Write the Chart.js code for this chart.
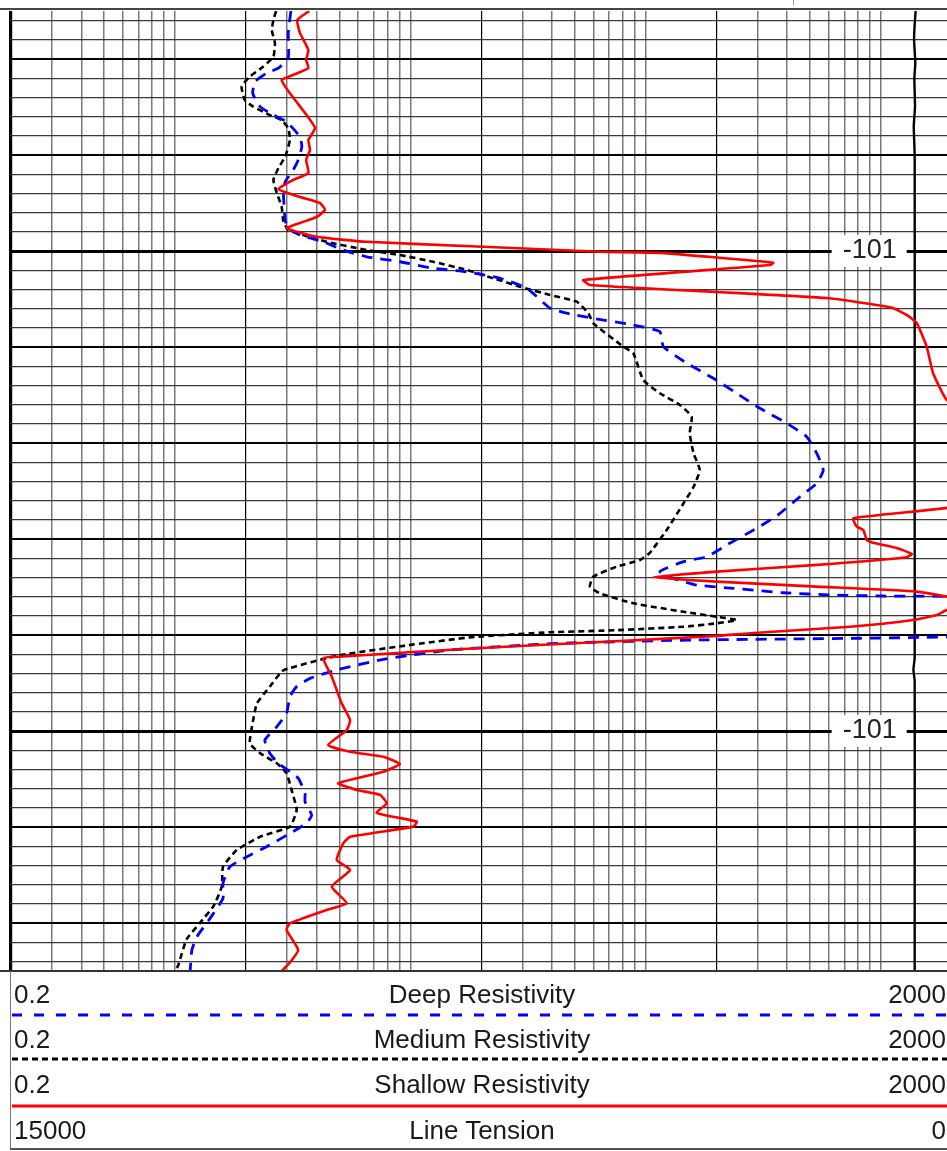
<!DOCTYPE html>
<html>
<head>
<meta charset="utf-8">
<title>Resistivity log</title>
<script src="https://cdn.jsdelivr.net/npm/chart.js@4.4.1/dist/chart.umd.min.js"></script>
<style>
  html, body { margin: 0; padding: 0; background: #fff; overflow: hidden; width: 947px; height: 1151px; }
  #wrap { position: relative; width: 947px; height: 1151px; overflow: hidden; }
  #log { position: absolute; left: 0; top: 0; }
  .rule { position: absolute; }
  #legend { position: absolute; left: 10px; top: 971px; width: 942px; height: 177px;
    border-left: 1.5px solid #777; border-bottom: 2px solid #555;
    font-family: 'Liberation Sans', Arial, sans-serif; font-size: 26px; color: #1a1a1a; }
  .row { position: absolute; left: 0; right: 0; height: 30px; line-height: 30px; white-space: nowrap; }
  .row .lo { position: absolute; left: 3px; }
  .row .name { position: absolute; left: 0; right: 0; text-align: center; }
  .row .hi { position: absolute; right: 7px; }
  .sample { position: absolute; left: 0; }
</style>
</head>
<body>
<div id="wrap">
  <canvas id="log" width="960" height="1151" style="width:960px;height:1151px"></canvas>
  <div class="rule" style="left:0;top:8px;width:947px;height:2px;background:#444"></div>
  <div class="rule" style="left:793px;top:0;width:1px;height:5px;background:#999"></div>
  <div class="rule" style="left:0;top:970px;width:947px;height:1.5px;background:#333"></div>
  <div id="legend"></div>
</div>
<script>
// grid values of the resistivity scale (ohm.m), one line per value
const resTicks = [0.2, 0.3, 0.4, 0.5, 0.6, 0.7, 0.8, 0.9, 1,
  2, 3, 4, 5, 6, 7, 8, 9, 10,
  20, 30, 40, 50, 60, 70, 80, 90, 100,
  200, 300, 400, 500, 600, 700, 800, 900, 1000, 2000];
const decadeTicks = [0.2, 2, 20, 200, 2000];

// depth grid: one line per unit, heavier every 5, labelled every 25
const depthTicks = [];
for (let d = 13; d <= 62; d++) depthTicks.push(d);
const labelDepths = [25, 50];
const depthLabels = ['-101', '-101'];

// curve names and scale ends for the header
const curveNames = ['Deep Resistivity', 'Medium Resistivity', 'Shallow Resistivity', 'Line Tension'];
const curveLeft = ['0.2', '0.2', '0.2', '15000'];
const curveRight = ['2000', '2000', '2000', '0'];

// Deep resistivity (blue dashed)
const deepDepth = [12.5, 13.14, 13.66, 14.96, 15.48, 15.74, 16.18, 16.79, 17.48, 17.92,
  18.27, 19.05, 19.57, 20.26, 20.78, 21.39, 21.99, 23.39, 23.82, 24.17,
  24.52, 24.95, 25.3, 25.56, 25.9, 26.08, 26.42, 26.94, 27.98, 28.24,
  28.51, 28.85, 29.2, 29.98, 30.85, 31.63, 32.41, 33.19, 33.97, 34.67,
  35.54, 36.41, 37.1, 37.8, 38.75, 39.44, 40.22, 40.92, 41.18, 41.7,
  42.05, 42.4, 42.57, 42.8, 42.92, 42.97, 43.0, 43.5, 44.6, 45.09,
  45.26, 45.43, 45.78, 46.27, 46.82, 47.26, 47.69, 48.21, 49.08, 49.77,
  50.48, 51.16, 51.68, 52.46, 53.24, 53.68, 54.38, 54.81, 55.33, 56.03,
  56.55, 57.07, 57.93, 58.71, 59.76, 60.71, 61.41, 62.5];
const deepRes = [3.11, 3.06, 3.03, 3.03, 2.75, 2.45, 2.19, 2.14, 2.30, 2.62,
  2.98, 3.40, 3.46, 3.34, 3.18, 2.94, 2.89, 2.94, 3.03, 3.40,
  4.27, 5.19, 6.53, 9.04, 12.5, 17.4, 24.1, 31.3, 39.3, 46.2,
  60.0, 88.7, 115, 119, 150, 194, 244, 306, 398, 484,
  534, 569, 534, 453, 365, 297, 228, 182, 145, 115,
  131, 165, 236, 385, 628, 1024, 1905, 3500, 3500, 1905,
  161, 43.7, 14.8, 7.68, 4.87, 3.75, 3.29, 3.08, 2.98, 2.71,
  2.41, 2.53, 2.75, 3.34, 3.57, 3.57, 3.81, 3.62, 3.08, 2.45,
  2.02, 1.71, 1.60, 1.60, 1.41, 1.24, 1.18, 1.16];

// Medium resistivity (black dotted)
const mediumDepth = [12.5, 12.97, 13.49, 14.18, 14.88, 15.4, 15.92, 16.44, 17.14, 17.48,
  17.92, 18.18, 18.61, 19.22, 20.09, 20.69, 21.3, 21.99, 22.69, 23.47,
  23.91, 24.17, 24.52, 24.95, 25.21, 25.56, 25.99, 26.42, 26.86, 27.29,
  27.64, 28.24, 28.77, 29.98, 30.33, 31.72, 32.41, 33.02, 33.63, 34.5,
  35.54, 36.41, 37.28, 38.14, 39.53, 40.74, 41.09, 41.44, 41.96, 42.48,
  42.83, 43.35, 43.79, 44.05, 44.22, 44.39, 44.57, 44.75, 44.86, 45.11,
  45.55, 46.06, 46.84, 47.69, 48.56, 49.43, 50.64, 51.16, 51.68, 52.2,
  53.07, 54.11, 54.98, 55.51, 56.2, 57.07, 58.11, 59.11, 59.98, 60.85,
  62.24, 62.5];
const mediumRes = [2.69, 2.62, 2.58, 2.66, 2.62, 2.37, 2.08, 1.92, 1.98, 2.15,
  2.53, 2.84, 3.03, 3.08, 2.94, 2.75, 2.62, 2.71, 2.84, 2.89,
  3.03, 3.51, 4.41, 6.53, 9.04, 12.5, 17.4, 22.5, 29.3, 39.3,
  51.0, 57.1, 60.0, 80.4, 88.7, 97.8, 115, 140, 157, 154,
  160, 170, 160, 145, 123, 104, 94.7, 75.4, 60.0, 58.0,
  64.0, 88.7, 145, 201, 244, 201, 145, 75.4, 39.3, 18.3,
  9.55, 4.98, 2.89, 2.53, 2.23, 2.15, 2.08, 2.30, 2.71, 2.98,
  3.13, 3.29, 3.08, 2.30, 1.83, 1.60, 1.58, 1.46, 1.28, 1.12,
  1.03, 1.0];

// Shallow resistivity (red solid)
const shallowDepth = [12.5, 12.97, 13.65, 14.53, 15.05, 15.47, 15.83, 16.09, 16.44, 17.14,
  17.81, 18.59, 19.22, 19.74, 20.26, 20.94, 21.3, 21.77, 22.19, 22.5,
  22.86, 23.23, 23.54, 23.82, 24.26, 24.52, 24.78, 25.04, 25.1, 25.61,
  25.73, 26.51, 26.77, 27.12, 27.45, 27.81, 27.97, 28.33, 28.75, 29.98,
  31.35, 32.76, 34.0, 36.0, 38.0, 38.92, 39.36, 39.53, 40.05, 40.19,
  40.47, 40.78, 40.95, 41.35, 41.7, 41.99, 42.22, 42.48, 42.74, 43.0,
  43.35, 43.7, 43.96, 44.22, 44.57, 44.91, 45.05, 45.35, 45.7, 46.13,
  46.21, 47.17, 48.56, 49.43, 49.95, 50.73, 51.08, 51.34, 51.72, 52.12,
  52.72, 53.07, 53.33, 53.77, 54.26, 54.72, 54.98, 55.51, 55.85, 56.72,
  57.24, 58.11, 58.97, 59.32, 60.02, 60.36, 61.41, 62.06, 62.5];
const shallowRes = [3.72, 3.31, 3.40, 3.69, 3.61, 3.69, 3.18, 2.84, 2.94, 3.24,
  3.57, 3.94, 3.69, 3.75, 3.61, 3.69, 3.18, 2.75, 3.40, 4.13,
  4.34, 4.00, 3.40, 2.98, 4.00, 6.53, 20.4, 64.0, 115, 349,
  338, 54.4, 58.0, 193, 589, 960, 1126, 1288, 1420, 1566,
  1666, 1905, 2600, 3000, 3000, 764, 790, 842, 871, 926,
  1168, 1352, 1288, 534, 201, 108, 201, 534, 1420, 1905,
  2600, 1905, 1728, 1373, 739, 278, 201, 67.6, 18.3, 4.98,
  4.27, 4.64, 5.11, 5.55, 5.37, 4.48, 5.55, 7.68, 9.04, 7.68,
  4.94, 5.92, 7.44, 7.94, 7.20, 10.65, 10.3, 5.55, 5.19, 4.87,
  5.55, 4.64, 5.37, 4.41, 3.08, 2.98, 3.34, 3.08, 2.84];

// Line tension (black solid, 15000 -> 0)
const tensionDepth = [12.5, 13.2, 14, 15.2, 16, 17.5, 18.5, 20, 30, 40, 46.2, 46.8, 47.4, 55, 62.5];
const tensionVal = [575, 590, 600, 580, 595, 585, 605, 590, 590, 590, 590, 610, 590, 590, 590];

const pairs = (depth, vals) => depth.map((d, i) => ({ x: vals[i], y: d }));
const isDecade = v => decadeTicks.includes(v);

function renderLegend() {
  const box = document.getElementById('legend');
  const rowTop = [8, 53, 98, 144];
  const samples = [
    { top: 44, color: '#0000ff', dash: '10 12', width: 3 },
    { top: 88, color: '#000000', dash: '6 4', width: 3 },
    { top: 135, color: '#ff0000', dash: '', width: 3 }
  ];
  box.innerHTML = curveNames.map((name, i) => `
    <div class="row" style="top:${rowTop[i]}px">
      <span class="lo">${curveLeft[i]}</span>
      <span class="name">${name}</span>
      <span class="hi">${curveRight[i]}</span>
    </div>`).join('') + samples.map(s => `
    <svg class="sample" style="top:${s.top - 3}px" width="942" height="6">
      <line x1="1" y1="3" x2="942" y2="3" stroke="${s.color}" stroke-width="${s.width}" ${s.dash ? `stroke-dasharray="${s.dash}"` : ''}/>
    </svg>`).join('');
}

function renderChart() {
  new Chart(document.getElementById('log'), {
    type: 'line',
    data: {
      datasets: [
        { label: 'Shallow Resistivity', data: pairs(shallowDepth, shallowRes), xAxisID: 'x', yAxisID: 'y',
          borderColor: '#ff0000', borderWidth: 2.6 },
        { label: 'Deep Resistivity', data: pairs(deepDepth, deepRes), xAxisID: 'x', yAxisID: 'y',
          borderColor: '#0000ff', borderWidth: 2.8, borderDash: [11, 8] },
        { label: 'Medium Resistivity', data: pairs(mediumDepth, mediumRes), xAxisID: 'x', yAxisID: 'y',
          borderColor: '#000000', borderWidth: 2.6, borderDash: [6, 4] },
        { label: 'Line Tension', data: pairs(tensionDepth, tensionVal), xAxisID: 'x2', yAxisID: 'y',
          borderColor: '#000000', borderWidth: 2.4 }
      ]
    },
    options: {
      responsive: false,
      animation: false,
      devicePixelRatio: 1,
      events: [],
      layout: { padding: { left: 10.5, top: 11, right: 8.3, bottom: 180 } },
      elements: {
        point: { radius: 0, hoverRadius: 0 },
        line: { tension: 0.15, fill: false, borderJoinStyle: 'round' }
      },
      plugins: { legend: { display: false }, tooltip: { enabled: false } },
      scales: {
        x: {
          type: 'logarithmic', position: 'bottom', min: 0.2, max: 2000,
          afterBuildTicks: s => { s.ticks = resTicks.map(v => ({ value: v })); },
          afterFit: s => { s.height = 0; s.paddingLeft = 0; s.paddingRight = 0; },
          ticks: { display: false, autoSkip: false },
          border: { display: false },
          grid: {
            drawTicks: false,
            color: c => isDecade(c.tick.value) ? '#000000' : '#7a7a7a',
            lineWidth: c => c.tick.value === 0.2 ? 3.2 : (isDecade(c.tick.value) ? 1.2 : 1.5)
          }
        },
        x2: { type: 'linear', display: false, min: 0, max: 15000, reverse: true },
        y: {
          type: 'linear', position: 'right', min: 12.5, max: 62.5, reverse: true,
          afterBuildTicks: s => { s.ticks = depthTicks.map(v => ({ value: v })); },
          afterFit: s => { s.width = 0; s.paddingTop = 0; s.paddingBottom = 0; },
          border: { display: false },
          grid: {
            drawTicks: false,
            color: c => c.tick.value % 5 === 0 ? '#000000' : '#3a3a3a',
            lineWidth: c => c.tick.value % 25 === 0 ? 3 : (c.tick.value % 5 === 0 ? 2 : 1.2)
          },
          ticks: {
            autoSkip: false, mirror: true, padding: -55, color: '#222222',
            font: { family: "'Liberation Sans', Arial, sans-serif", size: 27, lineHeight: 1.18 },
            callback: v => { const i = labelDepths.indexOf(v); return i < 0 ? '' : depthLabels[i]; },
            showLabelBackdrop: c => labelDepths.includes(c.tick.value),
            backdropColor: '#ffffff',
            backdropPadding: { left: 11, right: 10, top: 0, bottom: 0 }
          }
        }
      }
    }
  });
}

document.addEventListener('DOMContentLoaded', () => {
  renderLegend();
  renderChart();
});
</script>
</body>
</html>
